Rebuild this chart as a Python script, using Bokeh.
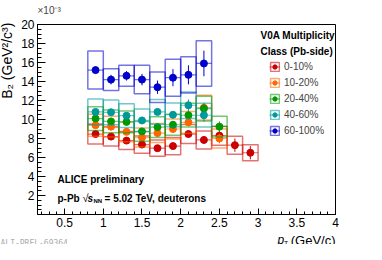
import numpy as np
from bokeh.plotting import figure
from bokeh.models import (ColumnDataSource, Label, Legend, LegendItem, FixedTicker,
                          CustomJSTickFormatter, Range1d)
from bokeh.embed import file_html
from bokeh.resources import INLINE

# ---- data (B2 in units of 1e-3 GeV^2/c^3) ----
pt = [0.9, 1.1, 1.3, 1.5, 1.7, 1.9, 2.1, 2.3, 2.5, 2.7, 2.9]

labels = ["0-10%", "10-20%", "20-40%", "40-60%", "60-100%"]

b2_0_10 = [8.47, 8.2, 7.78, 7.36, 6.98, 7.2, 8.47, 7.85, 8.3, 7.3, 6.5]
b2_10_20 = [9.4, 9.25, 8.7, 8.1, 8.57, 9.0, 9.7, 11.25, 8.0]
b2_20_40 = [10.1, 9.8, 9.75, 8.75, 9.2, 9.45, 10.45, 11.15, 9.25]
b2_40_60 = [10.8, 10.76, 10.4, 9.9, 10.8, 10.5, 11.5, 10.45]
b2_60_100 = [15.2, 14.2, 14.6, 14.2, 13.4, 14.4, 14.7, 15.9]

stat_0_10 = [0.2, 0.2, 0.2, 0.25, 0.3, 0.3, 0.35, 0.4, 0.5, 0.7, 0.7]
stat_10_20 = [0.2, 0.2, 0.2, 0.25, 0.3, 0.3, 0.4, 0.5, 0.5]
stat_20_40 = [0.2, 0.2, 0.25, 0.25, 0.3, 0.35, 0.4, 0.5, 0.55]
stat_40_60 = [0.2, 0.25, 0.25, 0.3, 0.35, 0.4, 0.6, 0.7]
stat_60_100 = [0.35, 0.5, 0.5, 0.6, 0.7, 0.9, 1.0, 1.35]

sys_0_10 = [1.05, 1.0, 0.95, 0.9, 0.85, 0.9, 1.0, 0.95, 1.0, 0.95, 0.85]
sys_10_20 = [1.15, 1.1, 1.05, 1.0, 1.0, 1.05, 1.15, 1.3, 1.0]
sys_20_40 = [1.25, 1.2, 1.15, 1.05, 1.1, 1.1, 1.25, 1.3, 1.1]
sys_40_60 = [1.35, 1.3, 1.25, 1.2, 1.3, 1.25, 1.4, 1.25]
sys_60_100 = [2.0, 1.15, 1.1, 1.5, 1.6, 1.95, 1.9, 2.4]

colors = ["#cc0000", "#ff6600", "#009900", "#009999", "#0000cc"]

x_ticks = [0.5, 1, 1.5, 2, 2.5, 3, 3.5, 4]
y_ticks = [2, 4, 6, 8, 10, 12, 14, 16, 18, 20]

HALF_BIN = 0.1
FONT = "Liberation Sans"

p = figure(width=366, height=244, output_backend="svg", toolbar_location=None,
           x_range=Range1d(0.15, 4.0), y_range=Range1d(0, 20),
           min_border_left=37, min_border_right=31, min_border_top=24, min_border_bottom=28,
           background_fill_color="white", border_fill_color="white")
p.xgrid.visible = False
p.ygrid.visible = False
p.outline_line_color = "black"
p.outline_line_width = 1
p.outline_line_alpha = 1

# exponent of the y axis, as the plot title above the frame
p.title.text = "×10⁻³"
p.title.align = "left"
p.title.text_font = FONT
p.title.text_font_style = "normal"
p.title.text_font_size = "10px"
p.title.standoff = 0
p.title.offset = 0

# axes
p.xaxis.ticker = FixedTicker(ticks=x_ticks, minor_ticks=[round(0.2 + 0.1 * i, 2) for i in range(39)])
p.yaxis.ticker = FixedTicker(ticks=y_ticks, minor_ticks=[0.5 * i for i in range(41)])
p.xaxis.formatter = CustomJSTickFormatter(code="return tick.toString();")
p.yaxis.formatter = CustomJSTickFormatter(code="return tick.toString();")
for ax, (mj, mn) in ((p.xaxis, (6, 3)), (p.yaxis, (8, 4))):
    ax.major_tick_in = mj
    ax.major_tick_out = 0
    ax.minor_tick_in = mn
    ax.minor_tick_out = 0
    ax.axis_line_color = "black"
    ax.major_tick_line_color = "black"
    ax.minor_tick_line_color = "black"
    ax.major_label_text_font = FONT
    ax.major_label_text_font_size = "12px"
    ax.major_label_text_color = "black"
    ax.major_label_standoff = 3

series = [
    (labels[0], b2_0_10, stat_0_10, sys_0_10, colors[0]),
    (labels[1], b2_10_20, stat_10_20, sys_10_20, colors[1]),
    (labels[2], b2_20_40, stat_20_40, sys_20_40, colors[2]),
    (labels[3], b2_40_60, stat_40_60, sys_40_60, colors[3]),
    (labels[4], b2_60_100, stat_60_100, sys_60_100, colors[4]),
]

items = []
for name, yv, st, sy, col in series:
    n = len(yv)
    x = np.array(pt[:n])
    y = np.array(yv)
    st = np.array(st)
    sy = np.array(sy)
    src = ColumnDataSource(dict(x=x, y=y, left=x - HALF_BIN, right=x + HALF_BIN,
                                top=y + sy, bottom=y - sy, ylo=y - st, yhi=y + st))
    rq = p.quad(left="left", right="right", top="top", bottom="bottom", source=src,
                fill_alpha=0, line_color=col, line_alpha=0.55, line_width=1.5)
    rh = p.segment(x0="left", x1="right", y0="y", y1="y", source=src,
                   line_color=col, line_alpha=0.55, line_width=1.2)
    rv = p.segment(x0="x", x1="x", y0="ylo", y1="yhi", source=src,
                   line_color=col, line_width=1)
    rs = p.scatter(x="x", y="y", source=src, marker="circle", size=7,
                   fill_color=col, line_color=col)
    items.append(LegendItem(label=name, renderers=[rq, rh, rs]))

legend = Legend(items=items, location=(232, 78), glyph_width=11, glyph_height=11,
                label_height=11, spacing=5, padding=0, margin=0, label_standoff=4,
                label_text_font=FONT, label_text_font_size="10px",
                border_line_alpha=0, background_fill_alpha=0)
p.add_layout(legend)


def lab(x, y, text, size="10px", style="normal", align="left", baseline="middle",
        angle=0, font=FONT, color="black", place="center"):
    p.add_layout(Label(x=x, y=y, text=text, text_font=font, text_font_size=size,
                       text_font_style=style, text_align=align, text_baseline=baseline,
                       angle=angle, text_color=color), place)


# legend header
lab(3.031, 18.85, "V0A Multiplicity", size="10px", style="bold")
lab(3.031, 17.19, "Class (Pb-side)", size="10px", style="bold")

# annotations
lab(0.408, 3.65, "ALICE preliminary", size="10px", style="bold")
lab(0.408, 1.72, "p-Pb", size="10px", style="bold")
lab(0.73, 1.72, "√", size="11px")
lab(0.796, 1.72, "s", size="10px", style="bold italic")
lab(0.873, 1.45, "NN", size="6px", style="bold")
lab(1.016, 1.72, "= 5.02 TeV, deuterons", size="10px", style="bold")

# axis titles (placed outside the frame, positioned in data units)
lab(-0.2505, 20.2, "B₂ (GeV²/c³)", size="14px", align="right", angle=np.pi / 2, place="left")
lab(4.0, -2.71, "(GeV/c)", size="13px", align="right", place="below")
lab(3.25, -2.71, "p", size="12px", style="italic", place="right")
lab(3.335, -3.1, "T", size="7px", place="right")

# watermark
lab(-0.328, -3.1, "ALI-PREL-69364", size="8px", font="DejaVu Sans Mono", color="#aaaaaa",
    place="above")

open("out.html", "w").write(file_html(p, INLINE))
